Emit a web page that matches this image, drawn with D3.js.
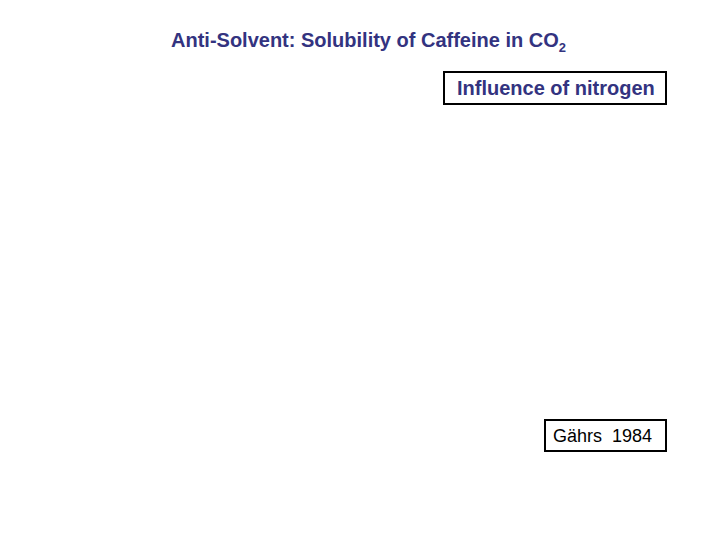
<!DOCTYPE html>
<html>
<head>
<meta charset="utf-8">
<script src="https://cdn.jsdelivr.net/npm/d3@7"></script>
<style>
  body { margin: 0; background: #fff; }
  svg text { font-family: "Liberation Sans", Arial, sans-serif; }
</style>
</head>
<body>
<div id="chart"></div>
<script>
// texts on the slide
var titleMain = "Anti-Solvent: Solubility of Caffeine in CO";
var titleSub = "2";
var boxLabels = ["Influence of nitrogen", "Gährs  1984"];
var boxColors = ["#333380", "#000000"];

var width = 720, height = 540;

var svg = d3.select("#chart")
  .append("svg")
  .attr("width", width)
  .attr("height", height);

// title
var title = svg.append("text")
  .attr("x", 171)
  .attr("y", 47)
  .style("font-size", "20px")
  .style("font-weight", "bold")
  .style("fill", "#333380");
title.append("tspan").text(titleMain);
title.append("tspan")
  .attr("dy", 5)
  .style("font-size", "13px")
  .text(titleSub);

// boxed labels
var boxes = [
  {x: 444, y: 72, w: 222, h: 32, size: 20, bold: true, tx: 457, ty: 95},
  {x: 545, y: 420, w: 121, h: 31, size: 18, bold: false, tx: 553, ty: 442}
];

var g = svg.selectAll("g.box")
  .data(boxes)
  .enter()
  .append("g")
  .attr("class", "box");

g.append("rect")
  .attr("x", function(d) { return d.x; })
  .attr("y", function(d) { return d.y; })
  .attr("width", function(d) { return d.w; })
  .attr("height", function(d) { return d.h; })
  .style("fill", "none")
  .style("stroke", "#000")
  .style("stroke-width", 2);

g.append("text")
  .attr("x", function(d) { return d.tx; })
  .attr("y", function(d) { return d.ty; })
  .style("font-size", function(d) { return d.size + "px"; })
  .style("font-weight", function(d) { return d.bold ? "bold" : "normal"; })
  .style("fill", function(d, i) { return boxColors[i]; })
  .style("white-space", "pre")
  .attr("xml:space", "preserve")
  .text(function(d, i) { return boxLabels[i]; });
</script>
</body>
</html>
